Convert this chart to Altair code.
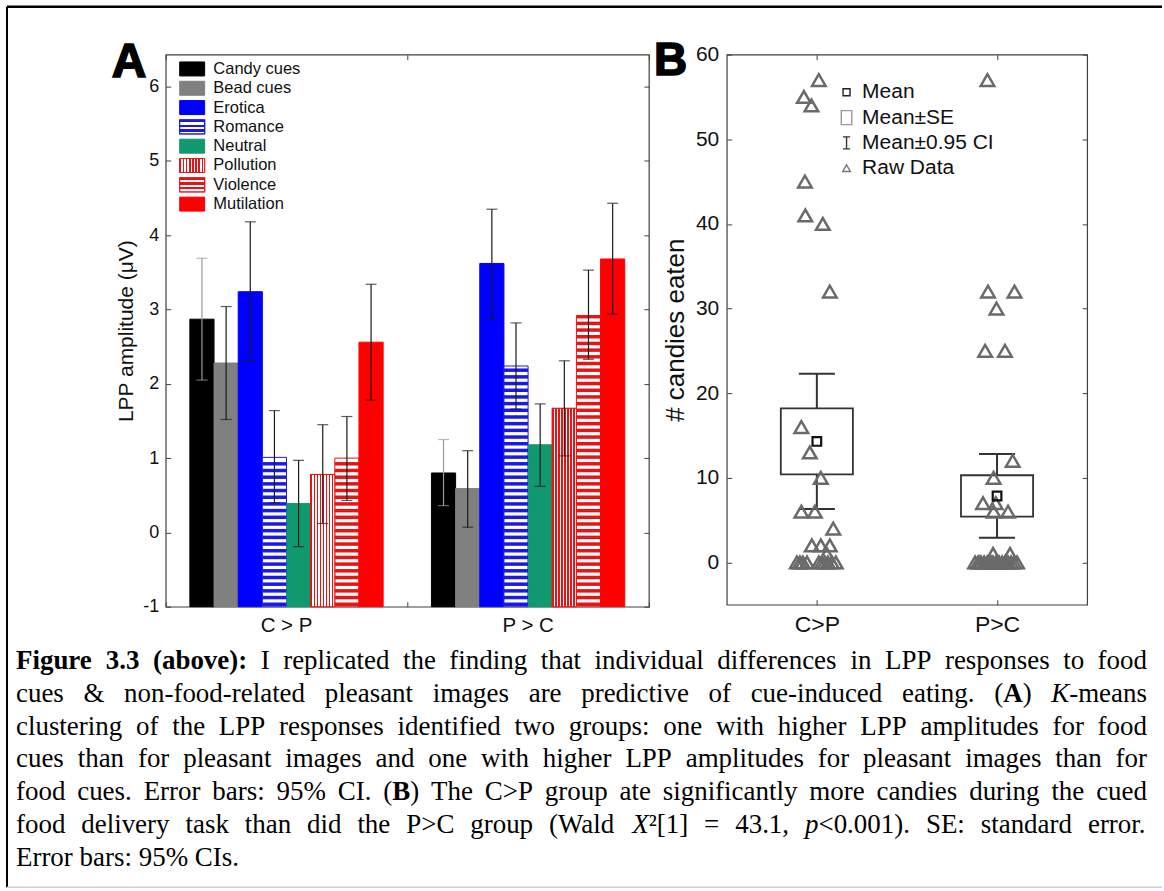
import json
import re
import altair as alt
import pandas as pd

# ---------------- Panel A data ----------------
categories = ["Candy cues", "Bead cues", "Erotica", "Romance", "Neutral",
              "Pollution", "Violence", "Mutilation"]
groups_a = ["C > P", "P > C"]
lpp_cp = [2.87, 2.28, 3.24, 1.01, 0.39, 0.78, 1.00, 2.56]
lpp_cp_lo = [2.05, 1.52, 2.31, 0.40, -0.19, 0.12, 0.43, 1.78]
lpp_cp_hi = [3.69, 3.04, 4.18, 1.64, 0.97, 1.45, 1.56, 3.34]
lpp_pc = [0.80, 0.59, 3.62, 2.24, 1.18, 1.67, 2.92, 3.68]
lpp_pc_lo = [0.36, 0.07, 2.88, 1.66, 0.62, 1.03, 2.33, 2.94]
lpp_pc_hi = [1.25, 1.10, 4.35, 2.82, 1.73, 2.31, 3.53, 4.43]
y_ticks_a = [-1, 0, 1, 2, 3, 4, 5, 6]

# ---------------- Panel B data ----------------
groups_b = ["C>P", "P>C"]
mean_b = [14.3, 7.85]
se_b = [3.9, 2.45]
ci_b = [8.0, 4.95]
raw_cp = [57, 55, 54, 45, 41, 40, 32, 16, 13, 10, 6, 6, 4, 2, 2, 2, 1,
          0, 0, 0, 0, 0, 0, 0, 0, 0, 0]
jit_cp = [0.011, -0.072, -0.030, -0.066, -0.064, 0.033, 0.072, -0.086, -0.039,
          0.022, -0.086, -0.011, 0.091, -0.028, 0.022, 0.072, 0.055,
          -0.111, -0.094, -0.078, -0.055, 0.011, 0.028, 0.044, 0.061, 0.083, 0.105]
raw_pc = [57, 32, 32, 30, 25, 25, 12, 10, 7, 7, 6, 6, 1, 1,
          0, 0, 0, 0, 0, 0, 0, 0, 0, 0, 0, 0, 0, 0, 0, 0, 0, 0]
jit_pc = [-0.053, -0.050, 0.097, -0.003, -0.066, 0.044, 0.087, -0.019, -0.078,
          -0.007, -0.019, 0.061, -0.022, 0.072,
          -0.122, -0.105, -0.089, -0.072, -0.055, -0.039, -0.022, -0.006, 0.011,
          0.028, 0.044, 0.061, 0.078, 0.094, 0.111, -0.100, -0.033, 0.050]
y_ticks_b = [0, 10, 20, 30, 40, 50, 60]
legend_b = ["Mean", "Mean±SE", "Mean±0.95 CI", "Raw Data"]

# ---------------- Caption (** bold **, * italic *) ----------------
caption_lines = [
    "**Figure 3.3 (above):** I replicated the finding that individual differences in LPP responses to food",
    "cues & non-food-related pleasant images are predictive of cue-induced eating. (**A**) *K*-means",
    "clustering of the LPP responses identified two groups: one with higher LPP amplitudes for food",
    "cues than for pleasant images and one with higher LPP amplitudes for pleasant images than for",
    "food cues. Error bars: 95% CI. (**B**) The C>P group ate significantly more candies during the cued",
    "food delivery task than did the P>C group (Wald *X*²[1] = 43.1, *p*<0.001). SE: standard error.",
    "Error bars: 95% CIs.",
]

# ---------------- styles ----------------
FONT = "Liberation Sans"
SERIF = "Liberation Serif"
CAP_SIZE = 27
CAP_X0 = -150          # caption left edge, relative to panel A's plot origin
CAP_WIDTH = 1133       # justified line width in px
W_A, H_A = 484, 553
W_B, H_B = 361, 551
BLUE_S = "#1a1ae6"
RED_S = "#e61414"
fill_range = ["#000000", "#808080", "#0000ff", "#ffffff", "#10996f", "#ffffff", "#ffffff", "#ff0000"]
stroke_range = ["#000000", "#808080", "#0000ff", BLUE_S, "#10996f", RED_S, RED_S, "#ff0000"]

# Times New Roman advance widths (per 1000 em) -- Liberation Serif is metric compatible
_reg = {" ": 250, "!": 333, "%": 833, "&": 778, "(": 333, ")": 333, ",": 250, "-": 333, ".": 250,
        ":": 278, ";": 278, "<": 564, "=": 564, ">": 564, "[": 333, "]": 333, "²": 300, "±": 564,
        "A": 722, "B": 667, "C": 667, "D": 722, "E": 611, "F": 556, "G": 722, "H": 722, "I": 333,
        "J": 389, "K": 722, "L": 611, "M": 889, "N": 722, "O": 722, "P": 556, "Q": 722, "R": 667,
        "S": 556, "T": 611, "U": 722, "V": 722, "W": 944, "X": 722, "Y": 722, "Z": 611,
        "a": 444, "b": 500, "c": 444, "d": 500, "e": 444, "f": 333, "g": 500, "h": 500, "i": 278,
        "j": 278, "k": 500, "l": 278, "m": 778, "n": 500, "o": 500, "p": 500, "q": 500, "r": 333,
        "s": 389, "t": 278, "u": 500, "v": 500, "w": 722, "x": 500, "y": 500, "z": 444}
for _d in "0123456789":
    _reg[_d] = 500
_bold = {"F": 611, "u": 556, "r": 444, "a": 500, "b": 556, ":": 333, "A": 722, "B": 667}
_ital = {"K": 667, "X": 611, "p": 500}


def text_width(s, style):
    tbl = {"bold": _bold, "italic": _ital}.get(style, {})
    return sum(tbl.get(ch, _reg.get(ch, 500)) for ch in s) * CAP_SIZE / 1000.0


def layout_caption(lines):
    out = []
    for li, line in enumerate(lines):
        runs = []
        for part in re.split(r"(\*\*.+?\*\*|\*.+?\*)", line):
            if not part:
                continue
            if part.startswith("**"):
                runs.append((part[2:-2], "bold"))
            elif part.startswith("*"):
                runs.append((part[1:-1], "italic"))
            else:
                runs.append((part, "normal"))
        words = [[]]
        for txt, st in runs:
            for ci, ch in enumerate(txt.split(" ")):
                if ci > 0:
                    words.append([])
                if ch:
                    words[-1].append((ch, st))
        words = [w for w in words if w]
        widths = [sum(text_width(t, s) for t, s in w) for w in words]
        if li < len(lines) - 1 and len(words) > 1:
            gap = (CAP_WIDTH - sum(widths)) / (len(words) - 1)
        else:
            gap = text_width(" ", "normal")
        x = 0.0
        for w, ww in zip(words, widths):
            for t, s in w:
                out.append({"line": li, "px": CAP_X0 + x, "text": t, "style": s})
                x += text_width(t, s)
            x += gap
    return pd.DataFrame(out)


def stripes(color, n, vertical):
    stops = []
    for k in range(n):
        a, m, b = k / n, (k + 0.5) / n, (k + 1) / n
        stops += [alt.GradientStop(color=color, offset=a), alt.GradientStop(color=color, offset=m),
                  alt.GradientStop(color="#ffffff", offset=m), alt.GradientStop(color="#ffffff", offset=b)]
    if vertical:
        return alt.LinearGradient(gradient="linear", stops=stops, x1=0, x2=1, y1=0, y2=0)
    return alt.LinearGradient(gradient="linear", stops=stops, x1=0, x2=0, y1=0, y2=1)


def tick_axis(orient, offset, values=None, band=False):
    kw = dict(orient=orient, offset=offset, labels=False, ticks=True, tickSize=5,
              tickColor="#404040", tickWidth=1, domain=False, grid=False, zindex=1)
    if values is not None:
        kw["values"] = values
    if band:
        kw["tickBand"] = "extent"
    return alt.Axis(**kw)


# ================= Panel A =================
rows = []
for g, vals, lo, hi in [(groups_a[0], lpp_cp, lpp_cp_lo, lpp_cp_hi),
                        (groups_a[1], lpp_pc, lpp_pc_lo, lpp_pc_hi)]:
    for c, v, l, h in zip(categories, vals, lo, hi):
        rows.append({"group": g, "cat": c, "value": v, "lo": l, "hi": h})
dfa = pd.DataFrame(rows)

ysc_a = alt.Scale(domain=[-1, 6.43], nice=False, zero=False)
xsc_a = alt.Scale(domain=groups_a, paddingInner=0, paddingOuter=0)
xo_a = alt.XOffset("cat:N", scale=alt.Scale(domain=categories, paddingInner=0, paddingOuter=1))

ax_y_lab_a = alt.Axis(orient="left", values=y_ticks_a, ticks=False, domain=False, grid=False,
                      labelExpr="'' + datum.value",
                      labelFont=FONT, labelFontSize=18, labelColor="#111", labelPadding=7,
                      labelFlush=False, titleFont=FONT, titleFontSize=21, titleFontWeight="normal",
                      titleColor="#111", titlePadding=6)
ax_x_lab_a = alt.Axis(orient="bottom", ticks=False, domain=False, grid=False, labelFont=FONT,
                      labelFontSize=20.5, labelColor="#111", labelPadding=9, labelAngle=0)

base = alt.Chart(dfa).mark_bar(strokeWidth=1).encode(
    x=alt.X("group:N", scale=xsc_a, axis=ax_x_lab_a, title=None),
    xOffset=xo_a,
    y=alt.Y("value:Q", scale=ysc_a, axis=ax_y_lab_a, title="LPP amplitude (μV)"),
    y2=alt.datum(-1),
    fill=alt.Fill("cat:N", scale=alt.Scale(domain=categories, range=fill_range), legend=None),
    stroke=alt.Stroke("cat:N", scale=alt.Scale(domain=categories, range=stroke_range), legend=None),
)

poll = alt.Chart(dfa).transform_filter(alt.datum.cat == "Pollution").mark_bar(
    fill=stripes(RED_S, 8, True), stroke=RED_S, strokeWidth=1
).encode(
    x=alt.X("group:N", scale=xsc_a, axis=None),
    xOffset=xo_a,
    y=alt.Y("value:Q", scale=ysc_a, axis=None),
    y2=alt.datum(-1),
)

hstr = alt.Chart(dfa).transform_filter(
    alt.FieldOneOfPredicate(field="cat", oneOf=["Romance", "Violence"])
).transform_calculate(
    s="sequence(-0.99, datum.value - 0.02, 0.09)"
).transform_flatten(["s"]).transform_calculate(
    s2="min(datum.s + 0.047, datum.value)",
    col=f"datum.cat == 'Romance' ? '{BLUE_S}' : '{RED_S}'",
).mark_rect().encode(
    x=alt.X("group:N", scale=xsc_a, axis=tick_axis("top", -H_A, band=True), title=None),
    xOffset=xo_a,
    y=alt.Y("s:Q", scale=ysc_a, axis=tick_axis("right", -W_A, y_ticks_a), title=None),
    y2=alt.Y2("s2:Q"),
    fill=alt.Fill("col:N", scale=None),
)

err_color = alt.condition(alt.datum.cat == "Candy cues", alt.value("#9a9a9a"), alt.value("#1a1a1a"))
err = alt.Chart(dfa).mark_rule(strokeWidth=1.2).encode(
    x=alt.X("group:N", scale=xsc_a, axis=tick_axis("bottom", -H_A, band=True), title=None),
    xOffset=xo_a,
    y=alt.Y("lo:Q", scale=ysc_a, axis=tick_axis("left", -W_A, y_ticks_a), title=None),
    y2=alt.Y2("hi:Q"),
    color=err_color,
)
caps = alt.Chart(dfa).transform_fold(["lo", "hi"], as_=["end", "v"]).mark_tick(
    size=11, thickness=1.2
).encode(
    x=alt.X("group:N", scale=xsc_a, axis=None),
    xOffset=xo_a,
    y=alt.Y("v:Q", scale=ysc_a, axis=None),
    color=err_color,
)

innerA = alt.layer(base, poll, hstr, err, caps).resolve_axis(x="independent", y="independent")

# legend A
dleg = pd.DataFrame({"cat": categories})
ly = alt.Y("cat:N", scale=alt.Scale(type="band", domain=categories, range=[7.3, 156.7],
                                    paddingInner=0.276, paddingOuter=0), axis=None)
leg_sw = alt.Chart(dleg).mark_rect(strokeWidth=1).encode(
    x=alt.value(14), x2=alt.value(39), y=ly,
    fill=alt.Fill("cat:N", scale=alt.Scale(domain=categories, range=fill_range), legend=None),
    stroke=alt.Stroke("cat:N", scale=alt.Scale(domain=categories, range=stroke_range), legend=None),
)
leg_rom = alt.Chart(dleg).transform_filter(alt.datum.cat == "Romance").mark_rect(
    fill=stripes(BLUE_S, 3, False), stroke=BLUE_S, strokeWidth=1.2
).encode(x=alt.value(14), x2=alt.value(39), y=ly)
leg_vio = alt.Chart(dleg).transform_filter(alt.datum.cat == "Violence").mark_rect(
    fill=stripes(RED_S, 3, False), stroke=RED_S, strokeWidth=1.2
).encode(x=alt.value(14), x2=alt.value(39), y=ly)
leg_pol = alt.Chart(dleg).transform_filter(alt.datum.cat == "Pollution").mark_rect(
    fill=stripes(RED_S, 8, True), stroke=RED_S, strokeWidth=1
).encode(x=alt.value(14), x2=alt.value(39), y=ly)
leg_txt = alt.Chart(dleg).mark_text(align="left", baseline="middle", font=FONT, fontSize=16.5,
                                    color="#111").encode(x=alt.value(47.7), y=ly, text="cat:N")
legendA = alt.layer(leg_sw, leg_rom, leg_vio, leg_pol, leg_txt)

labelA = alt.Chart(pd.DataFrame({"t": ["A"]})).mark_text(
    align="left", baseline="alphabetic", font=FONT, fontSize=48, fontWeight="bold",
    color="#000", stroke="#000", strokeWidth=1.6
).encode(x=alt.value(-54), y=alt.value(22), text="t:N")

# caption (drawn below panel A, spanning the figure), justified word by word
dcap = layout_caption(caption_lines)
cy = alt.Y("line:Q", scale=alt.Scale(domain=[0, 6], range=[607, 805]), axis=None)
cx = alt.X("px:Q", scale=None, axis=None)
cap_layers = []
for style, weight, fstyle in [("normal", "normal", "normal"), ("bold", "bold", "normal"),
                              ("italic", "normal", "italic")]:
    cap_layers.append(
        alt.Chart(dcap).transform_filter(alt.datum.style == style).mark_text(
            align="left", baseline="middle", font=SERIF, fontSize=CAP_SIZE, color="#000",
            fontWeight=weight, fontStyle=fstyle
        ).encode(x=cx, y=cy, text="text:N")
    )
caption = alt.layer(*cap_layers)

one = pd.DataFrame({"k": [0]})
border_left = alt.Chart(one).mark_rule(color="#000", strokeWidth=2).encode(
    x=alt.value(-159), y=alt.value(-48), y2=alt.value(834))
border_top = alt.Chart(one).mark_rule(color="#000", strokeWidth=2.5).encode(
    x=alt.value(-159), x2=alt.value(998), y=alt.value(-48))
border_bot = alt.Chart(one).mark_rule(color="#d0d0d0", strokeWidth=1.5).encode(
    x=alt.value(-159), x2=alt.value(998), y=alt.value(834))

panelA = alt.layer(innerA, legendA, labelA, caption, border_left, border_top, border_bot).resolve_scale(
    x="independent", y="independent").properties(width=W_A, height=H_A)

# ================= Panel B =================
dfb = pd.DataFrame({"idx": [1, 2], "group": groups_b, "mean": mean_b, "se": se_b, "ci": ci_b})
raw_rows = []
for i, (vals, jits) in enumerate([(raw_cp, jit_cp), (raw_pc, jit_pc)]):
    for v, j in zip(vals, jits):
        raw_rows.append({"idx": i + 1, "val": v, "jit": j})
dfr = pd.DataFrame(raw_rows)

xsc_b = alt.Scale(domain=[0.5, 2.5], nice=False, zero=False)
ysc_b = alt.Scale(domain=[-5, 60], nice=False, zero=False)
lab_expr = json.dumps(groups_b) + "[datum.value - 1]"

ax_y_lab_b = alt.Axis(orient="left", values=y_ticks_b, ticks=False, domain=False, grid=False,
                      labelFont=FONT, labelFontSize=21, labelColor="#111", labelPadding=8,
                      labelFlush=False, titleFont=FONT, titleFontSize=26, titleFontWeight="normal",
                      titleColor="#111", titlePadding=7)
ax_x_lab_b = alt.Axis(orient="bottom", values=[1, 2], labelExpr=lab_expr, ticks=False, domain=False,
                      grid=False, labelFont=FONT, labelFontSize=23, labelColor="#111",
                      labelPadding=9, labelFlush=False)

summ = alt.Chart(dfb).transform_calculate(
    se_lo="datum.mean - datum.se", se_hi="datum.mean + datum.se",
    ci_lo="datum.mean - datum.ci", ci_hi="datum.mean + datum.ci",
    xl="datum.idx - 0.2", xr="datum.idx + 0.2",
    cl="datum.idx - 0.1", cr="datum.idx + 0.1",
)

whisk_hi = summ.mark_rule(color="#333", strokeWidth=2).encode(
    x=alt.X("idx:Q", scale=xsc_b, axis=ax_x_lab_b, title=None),
    y=alt.Y("se_hi:Q", scale=ysc_b, axis=ax_y_lab_b, title="# candies eaten"),
    y2=alt.Y2("ci_hi:Q"),
)
whisk_lo = summ.mark_rule(color="#333", strokeWidth=2).encode(
    x=alt.X("idx:Q", scale=xsc_b, axis=tick_axis("top", -H_B, [1, 2]), title=None),
    y=alt.Y("ci_lo:Q", scale=ysc_b, axis=tick_axis("right", -W_B, y_ticks_b), title=None),
    y2=alt.Y2("se_lo:Q"),
)
caps_b = summ.transform_fold(["ci_lo", "ci_hi"], as_=["end", "v"]).mark_rule(
    color="#333", strokeWidth=2
).encode(
    x=alt.X("cl:Q", scale=xsc_b, axis=tick_axis("bottom", -H_B, [1, 2]), title=None),
    x2=alt.X2("cr:Q"),
    y=alt.Y("v:Q", scale=ysc_b, axis=tick_axis("left", -W_B, y_ticks_b), title=None),
)
box_b = summ.mark_rect(fill="transparent", stroke="#333", strokeWidth=1.8).encode(
    x=alt.X("xl:Q", scale=xsc_b, axis=None), x2=alt.X2("xr:Q"),
    y=alt.Y("se_lo:Q", scale=ysc_b, axis=None), y2=alt.Y2("se_hi:Q"),
)
raw_b = alt.Chart(dfr).transform_calculate(xp="datum.idx + datum.jit").mark_point(
    shape="triangle-up", filled=False, stroke="#6a6a6a", strokeWidth=2.5, size=185, opacity=1
).encode(
    x=alt.X("xp:Q", scale=xsc_b, axis=None),
    y=alt.Y("val:Q", scale=ysc_b, axis=None),
)
mean_pt = summ.mark_point(shape="square", filled=False, stroke="#111", strokeWidth=2.2,
                          size=75, opacity=1).encode(
    x=alt.X("idx:Q", scale=xsc_b, axis=None),
    y=alt.Y("mean:Q", scale=ysc_b, axis=None),
)

innerB = alt.layer(whisk_hi, whisk_lo, caps_b, box_b, raw_b, mean_pt).resolve_axis(
    x="independent", y="independent")

dlb = pd.DataFrame({"lab": legend_b})
lby = alt.Y("lab:N", scale=alt.Scale(type="point", domain=legend_b, range=[37.7, 113.7], padding=0),
            axis=None)
sym_paths = ["M-1,-1H1V1H-1Z", "M-0.75,-1H0.75V1H-0.75Z",
             "M-0.6,-1H0.6M0,-1V1M-0.6,1H0.6", "triangle-up"]
lb_sym = alt.Chart(dlb).mark_point(filled=False, strokeWidth=1.4, opacity=1).encode(
    x=alt.value(120), y=lby,
    shape=alt.Shape("lab:N", scale=alt.Scale(domain=legend_b, range=sym_paths), legend=None),
    size=alt.Size("lab:N", scale=alt.Scale(type="ordinal", domain=legend_b, range=[49, 196, 144, 60]),
                  legend=None),
    stroke=alt.Stroke("lab:N", scale=alt.Scale(domain=legend_b, range=["#222", "#999", "#333", "#777"]),
                      legend=None),
)
lb_txt = alt.Chart(dlb).mark_text(align="left", baseline="middle", font=FONT, fontSize=21,
                                  color="#111").encode(x=alt.value(135.6), y=lby, text="lab:N")
legendB = alt.layer(lb_sym, lb_txt)

labelB = alt.Chart(pd.DataFrame({"t": ["B"]})).mark_text(
    align="left", baseline="alphabetic", font=FONT, fontSize=46, fontWeight="bold",
    color="#000", stroke="#000", strokeWidth=1.6
).encode(x=alt.value(-73), y=alt.value(20), text="t:N")

panelB = alt.layer(innerB, legendB, labelB).resolve_scale(
    x="independent", y="independent").properties(width=W_B, height=H_B)

chart = alt.hconcat(panelA, panelB, spacing=78, bounds="flush").resolve_scale(
    fill="independent", stroke="independent", shape="independent", size="independent",
    color="independent"
).properties(
    padding={"left": 5, "top": 4, "right": 0, "bottom": 0}
).configure_view(stroke="#404040", strokeWidth=1.2).configure_axis(grid=False)

chart.save("out.html", embed_options={"renderer": "svg", "actions": False})
